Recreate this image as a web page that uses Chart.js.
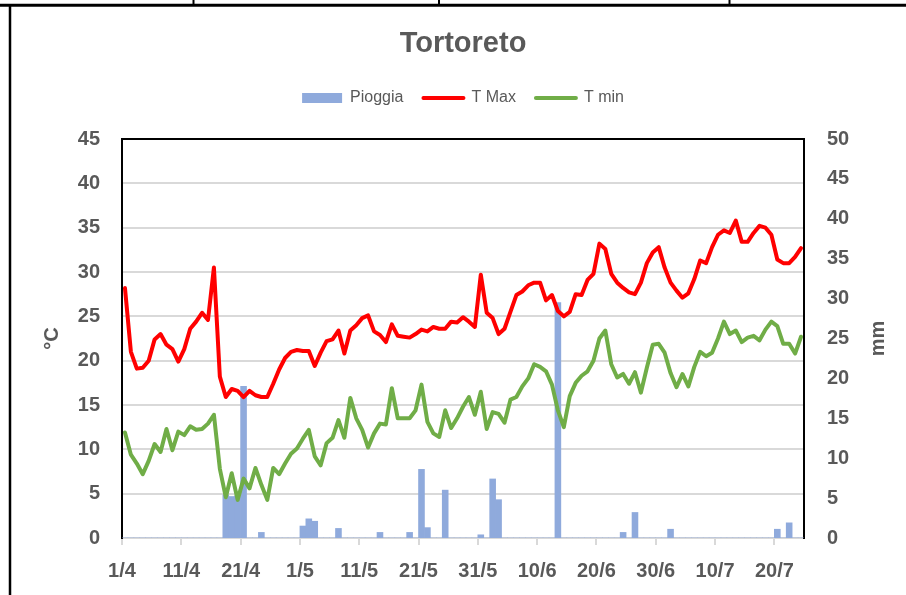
<!DOCTYPE html>
<html>
<head>
<meta charset="utf-8">
<script src="https://cdn.jsdelivr.net/npm/chart.js@4.4.1/dist/chart.umd.min.js"></script>
<style>
html,body{margin:0;padding:0;background:#fff;}
#wrap{width:906px;height:595px;position:relative;}
canvas{display:block;}
</style>
</head>
<body>
<div id="wrap"><canvas id="c" width="906" height="595"></canvas></div>
<script>
// ---- DATA ----
const categories = [
  "1/4","2/4","3/4","4/4","5/4","6/4","7/4","8/4","9/4","10/4",
  "11/4","12/4","13/4","14/4","15/4","16/4","17/4","18/4","19/4","20/4",
  "21/4","22/4","23/4","24/4","25/4","26/4","27/4","28/4","29/4","30/4",
  "1/5","2/5","3/5","4/5","5/5","6/5","7/5","8/5","9/5","10/5",
  "11/5","12/5","13/5","14/5","15/5","16/5","17/5","18/5","19/5","20/5",
  "21/5","22/5","23/5","24/5","25/5","26/5","27/5","28/5","29/5","30/5",
  "31/5","1/6","2/6","3/6","4/6","5/6","6/6","7/6","8/6","9/6",
  "10/6","11/6","12/6","13/6","14/6","15/6","16/6","17/6","18/6","19/6",
  "20/6","21/6","22/6","23/6","24/6","25/6","26/6","27/6","28/6","29/6",
  "30/6","1/7","2/7","3/7","4/7","5/7","6/7","7/7","8/7","9/7",
  "10/7","11/7","12/7","13/7","14/7","15/7","16/7","17/7","18/7","19/7",
  "20/7","21/7","22/7","23/7","24/7"
];

const tMax = [
  28.2,21.0,19.1,19.2,20.0,22.4,23.0,21.8,21.3,19.9,
  21.3,23.6,24.4,25.4,24.6,30.5,18.2,15.9,16.8,16.6,
  15.9,16.6,16.1,15.9,15.9,17.4,19.0,20.3,21.0,21.2,
  21.1,21.1,19.4,20.9,22.2,22.4,23.4,20.8,23.4,24.0,
  24.8,25.1,23.3,22.9,22.1,24.1,22.8,22.7,22.6,23.0,
  23.5,23.3,23.8,23.6,23.6,24.4,24.3,24.9,24.4,23.8,
  29.7,25.4,24.8,23.0,23.6,25.5,27.4,27.8,28.5,28.8,
  28.8,26.8,27.4,25.6,25.0,25.5,27.5,27.4,29.1,29.8,
  33.2,32.6,29.8,28.8,28.2,27.7,27.5,28.8,31.0,32.2,
  32.8,30.5,28.8,27.9,27.1,27.6,29.2,31.3,31.0,32.8,
  34.2,34.7,34.4,35.8,33.4,33.4,34.4,35.2,35.0,34.2,
  31.4,31.0,31.0,31.7,32.7
];

const tMin = [
  11.9,9.4,8.4,7.2,8.7,10.6,9.7,12.3,9.9,12.0,
  11.6,12.6,12.2,12.3,12.9,13.9,7.8,4.6,7.3,4.3,
  6.7,5.6,7.9,6.0,4.3,7.9,7.2,8.4,9.5,10.1,
  11.2,12.2,9.2,8.2,10.7,11.3,13.3,11.3,15.8,13.5,
  12.2,10.2,11.8,12.9,12.8,16.9,13.5,13.5,13.5,14.4,
  17.3,13.1,11.8,11.4,14.4,12.4,13.5,14.8,15.9,13.9,
  16.5,12.3,14.2,14.0,13.0,15.6,15.9,17.1,18.0,19.6,
  19.3,18.8,17.3,14.4,12.5,16.0,17.5,18.3,18.8,20.0,
  22.5,23.4,19.6,18.1,18.5,17.4,18.7,16.4,19.2,21.8,
  21.9,20.9,18.6,17.0,18.5,17.1,19.3,21.0,20.5,20.9,
  22.5,24.4,23.0,23.4,22.1,22.6,22.8,22.3,23.5,24.4,
  23.9,21.9,21.9,20.8,22.7
];

const pioggia = [
  0,0,0,0,0,0,0,0,0,0,
  0,0,0,0,0,0,0,5.4,5.2,5.3,
  19.0,0,0,0.7,0,0,0,0,0,0,
  1.5,2.4,2.1,0,0,0,1.2,0,0,0,
  0,0,0,0.7,0,0,0,0,0.7,0,
  8.6,1.3,0,0,6.0,0,0,0,0,0,
  0.4,0,7.4,4.8,0,0,0,0,0,0,
  0,0,0,29.5,0,0,0,0,0,0,
  0,0,0,0,0.7,0,3.2,0,0,0,
  0,0,1.1,0,0,0,0,0,0,0,
  0,0,0,0,0,0,0,0,0,0,
  1.1,0,1.9,0,0
];

const tempAxisMax = 45;
const rainAxisMax = 50;
const axisStep = 5;
const labelEvery = 10;

// ---- STYLE ----
const TEXT = '#595959';
const FAMILY = "'Liberation Sans', Arial, sans-serif";
Chart.defaults.font.family = FAMILY;

// data points centred in each day
const toPoints = arr => arr.map((v, i) => ({ x: i + 0.5, y: v }));

const framePlugin = {
  id: 'frame',
  beforeDraw(chart) {
    const c = chart.ctx;
    c.save();
    c.fillStyle = '#ffffff';
    c.fillRect(0, 0, chart.width, chart.height);
    c.strokeStyle = '#000000';
    c.lineWidth = 3;
    c.beginPath(); c.moveTo(0, 5.3); c.lineTo(chart.width, 5.3); c.stroke();
    c.lineWidth = 2;
    [193.5, 439, 729.5].forEach(x => { c.beginPath(); c.moveTo(x, 0); c.lineTo(x, 5); c.stroke(); });
    c.lineWidth = 2.5;
    c.beginPath(); c.moveTo(10, 5); c.lineTo(10, chart.height); c.stroke();
    c.restore();
  },
  afterDraw(chart) {
    const a = chart.chartArea, c = chart.ctx;
    c.save();
    c.strokeStyle = '#000000';
    c.lineWidth = 2;
    c.beginPath(); c.moveTo(a.left - 1, a.top); c.lineTo(a.right + 1, a.top); c.stroke();
    // secondary axis title, rotated like the primary one
    c.fillStyle = TEXT;
    c.font = "bold 20px " + FAMILY;
    c.textAlign = 'center';
    c.textBaseline = 'middle';
    c.translate(878, (a.top + a.bottom) / 2);
    c.rotate(-Math.PI / 2);
    c.fillText('mm', 0, 0);
    c.restore();
  }
};

const legendGap = {
  id: 'legendGap',
  afterInit(chart) {
    const lg = chart.legend;
    if (!lg) return;
    const fit = lg.fit;
    lg.fit = function () { fit.call(this); this.height += 23; };
  }
};

const tickFont = { family: FAMILY, size: 20, weight: 'bold' };
const isStep = v => Math.abs(v - Math.round(v)) < 1e-6 && Math.round(v) % labelEvery === 0;

new Chart(document.getElementById('c'), {
  type: 'bar',
  data: {
    datasets: [
      {
        type: 'bar', label: 'Pioggia', data: toPoints(pioggia), yAxisID: 'y2',
        backgroundColor: '#8faadc', borderWidth: 0,
        barPercentage: 1, categoryPercentage: 1, order: 2
      },
      {
        type: 'line', label: 'T Max', data: toPoints(tMax), yAxisID: 'y',
        borderColor: '#ff0000', backgroundColor: '#ff0000', borderWidth: 4,
        pointRadius: 0, tension: 0, borderJoinStyle: 'round', borderCapStyle: 'round', order: 1
      },
      {
        type: 'line', label: 'T min', data: toPoints(tMin), yAxisID: 'y',
        borderColor: '#70ad47', backgroundColor: '#70ad47', borderWidth: 4,
        pointRadius: 0, tension: 0, borderJoinStyle: 'round', borderCapStyle: 'round', order: 0
      }
    ]
  },
  options: {
    responsive: false,
    animation: false,
    devicePixelRatio: 1,
    layout: { padding: { left: 20, right: 0, top: 0, bottom: 0 } },
    scales: {
      x: {
        type: 'linear', min: 0, max: categories.length, offset: false,
        afterBuildTicks: s => {
          const t = [];
          for (let v = 0; v < categories.length; v += labelEvery) t.push({ value: v });
          s.ticks = t;
        },
        ticks: {
          stepSize: labelEvery, autoSkip: false, maxRotation: 0, minRotation: 0,
          color: TEXT, font: tickFont, padding: 14,
          callback: v => categories[Math.round(v)]
        },
        grid: { drawOnChartArea: false, color: '#d9d9d9', lineWidth: 2, tickLength: 7, offset: false },
        border: { color: '#d9d9d9', width: 2 },
        afterFit: s => { s.height = 57; }
      },
      y: {
        position: 'left', min: 0, max: tempAxisMax,
        ticks: { stepSize: axisStep, color: TEXT, font: tickFont, padding: 22 },
        grid: { color: '#d9d9d9', lineWidth: 2, drawTicks: false },
        border: { color: '#000000', width: 2 },
        title: { display: true, text: '°C', color: TEXT, font: { family: FAMILY, size: 20, weight: 'bold' }, padding: { top: 20, bottom: 0 } },
        afterFit: s => { s.width = 102; }
      },
      y2: {
        position: 'right', min: 0, max: rainAxisMax,
        ticks: { stepSize: axisStep, color: TEXT, font: tickFont, padding: 23 },
        grid: { display: false, drawTicks: false },
        border: { color: '#000000', width: 2 },
        title: { display: false, text: 'mm' },
        afterFit: s => { s.width = 102; }
      }
    },
    plugins: {
      title: {
        display: true, text: 'Tortoreto', color: TEXT,
        font: { family: FAMILY, size: 29, weight: 'bold' },
        padding: { top: 27, bottom: 8.2 }
      },
      legend: {
        display: true,
        labels: {
          color: TEXT, font: { family: FAMILY, size: 16 },
          usePointStyle: true, pointStyleWidth: 40, boxHeight: 10, padding: 20,
          sort: (a, b) => a.datasetIndex - b.datasetIndex,
          generateLabels(chart) {
            const items = Chart.defaults.plugins.legend.labels.generateLabels(chart);
            items.forEach(it => {
              const ds = chart.data.datasets[it.datasetIndex];
              if (ds.type === 'bar') {
                it.pointStyle = 'rect'; it.lineWidth = 0;
                it.fillStyle = ds.backgroundColor; it.strokeStyle = ds.backgroundColor;
              } else {
                it.pointStyle = 'line'; it.lineWidth = 4; it.lineCap = 'round';
                it.strokeStyle = ds.borderColor; it.fillStyle = ds.borderColor;
              }
            });
            return items;
          }
        }
      },
      tooltip: { enabled: false }
    }
  },
  plugins: [framePlugin, legendGap]
});
</script>
</body>
</html>
